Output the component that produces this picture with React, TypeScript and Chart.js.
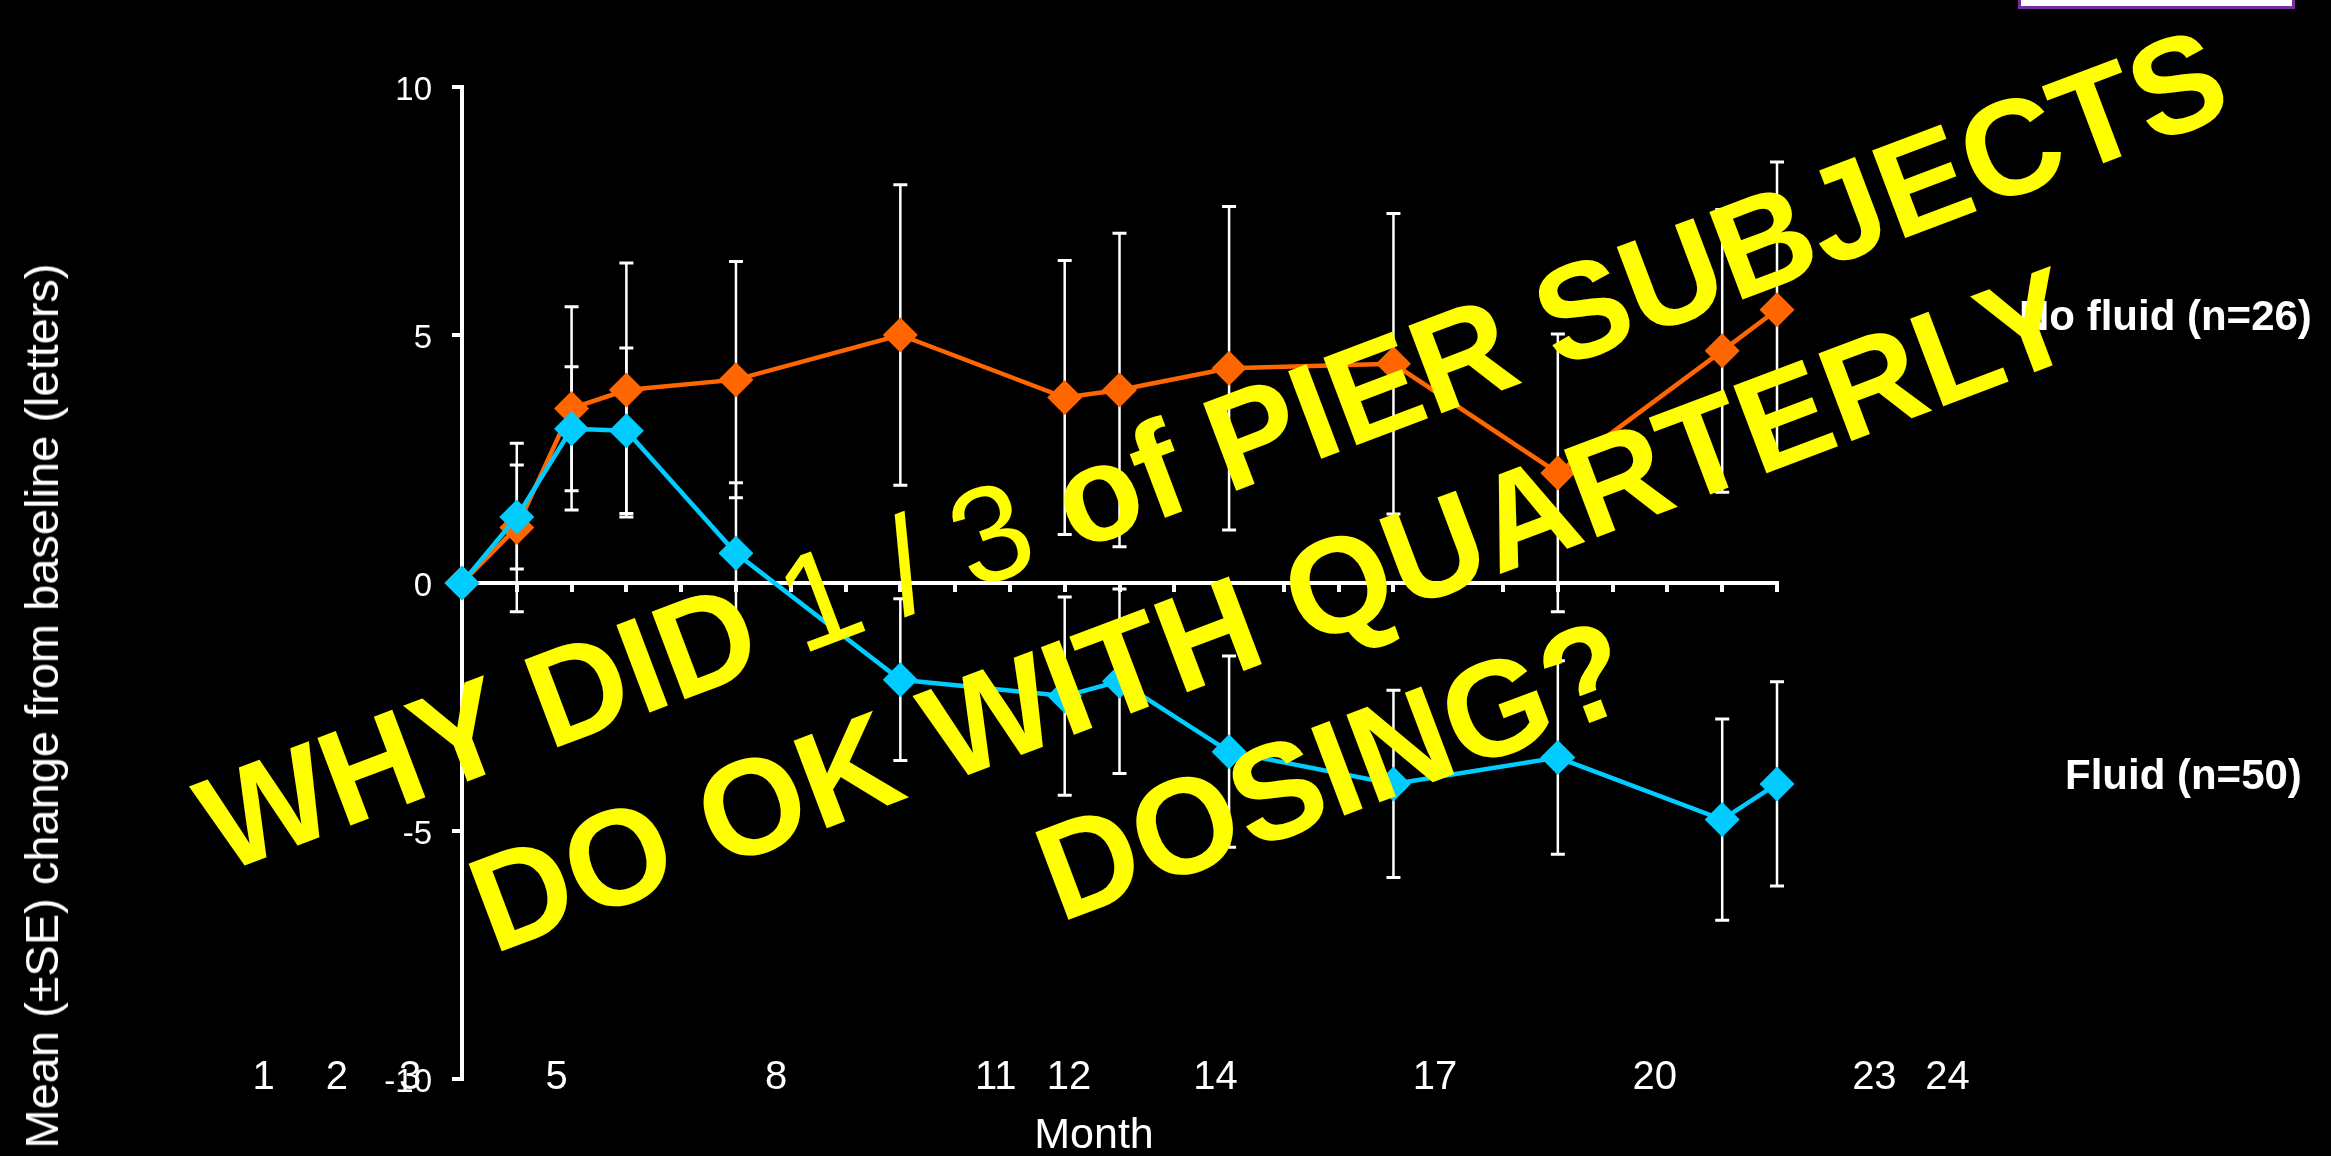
import React, { useEffect, useRef } from 'react';
import { Chart, registerables } from 'chart.js';

Chart.register(...registerables);

// ---- data ----
const months = [0, 1, 2, 3, 5, 8, 11, 12, 14, 17, 20, 23, 24];
const noFluidMean = [0, 1.12, 3.52, 3.89, 4.1, 5.0, 3.74, 3.89, 4.33, 4.42, 2.22, 4.68, 5.51];
const noFluidSE = [0, 1.7, 2.05, 2.56, 2.38, 3.03, 2.76, 3.16, 3.26, 3.03, 2.8, 2.85, 2.98];
const fluidMean = [0, 1.33, 3.11, 3.07, 0.6, -1.95, -2.28, -1.98, -3.4, -4.05, -3.52, -4.77, -4.05];
const fluidSE = [0, 1.05, 1.25, 1.67, 1.42, 1.63, 2.0, 1.86, 1.93, 1.89, 1.95, 2.03, 2.06];
const yTickValues = [-10, -5, 0, 5, 10];
const monthLabels = [1, 2, 3, 5, 8, 11, 12, 14, 17, 20, 23, 24];
const seriesNames = ['No fluid (n=26)', 'Fluid (n=50)'];
const yTitle = 'Mean (\u00B1SE) change from baseline (letters)';
const xTitle = 'Month';

const FONT = '"Liberation Sans", Arial, Helvetica, sans-serif';
const ORANGE = '#FF6600';
const CYAN = '#00CCFF';
const W = 2331;
const H = 1156;

const errorBarPlugin = {
  id: 'errorBars',
  beforeDatasetsDraw(chart: any) {
    const { ctx, scales } = chart;
    const xs = scales.x;
    const ys = scales.y;
    const groups: [number[], number[]][] = [
      [noFluidMean, noFluidSE],
      [fluidMean, fluidSE],
    ];
    ctx.save();
    ctx.strokeStyle = '#FFFFFF';
    ctx.lineCap = 'butt';
    groups.forEach(([mean, se]) => {
      months.forEach((m, i) => {
        if (!se[i]) return;
        const px = xs.getPixelForValue(m);
        const top = ys.getPixelForValue(mean[i] + se[i]);
        const bot = ys.getPixelForValue(mean[i] - se[i]);
        ctx.lineWidth = 2.5;
        ctx.beginPath();
        ctx.moveTo(px, top);
        ctx.lineTo(px, bot);
        ctx.stroke();
        ctx.lineWidth = 3;
        ctx.beginPath();
        ctx.moveTo(px - 7, top);
        ctx.lineTo(px + 7, top);
        ctx.moveTo(px - 7, bot);
        ctx.lineTo(px + 7, bot);
        ctx.stroke();
      });
    });
    ctx.restore();
  },
};

export default function App() {
  const canvasRef = useRef<HTMLCanvasElement | null>(null);

  useEffect(() => {
    const canvas = canvasRef.current;
    if (!canvas) return;
    Chart.defaults.font.family = FONT;
    const chart = new Chart(canvas, {
      type: 'line',
      data: {
        datasets: [
          {
            label: seriesNames[1],
            data: months.map((m, i) => ({ x: m, y: fluidMean[i] })),
            borderColor: CYAN,
            backgroundColor: CYAN,
            borderWidth: 4.5,
            pointStyle: 'rectRot',
            pointRadius: 17.5,
            pointBorderWidth: 0,
            pointBackgroundColor: CYAN,
            clip: false,
          },
          {
            label: seriesNames[0],
            data: months.map((m, i) => ({ x: m, y: noFluidMean[i] })),
            borderColor: ORANGE,
            backgroundColor: ORANGE,
            borderWidth: 4.5,
            pointStyle: 'rectRot',
            pointRadius: 17.5,
            pointBorderWidth: 0,
            pointBackgroundColor: ORANGE,
            clip: false,
          },
        ] as any,
      },
      options: {
        responsive: false,
        animation: false,
        devicePixelRatio: 1,
        layout: { padding: { left: 0, right: 554, top: 87, bottom: 77 } },
        plugins: {
          legend: { display: false },
          tooltip: { enabled: false },
          title: { display: false },
        },
        scales: {
          x: {
            type: 'linear',
            position: { y: 0 } as any,
            min: 0,
            max: 24,
            ticks: { stepSize: 1, display: false, autoSkip: false },
            grid: {
              drawOnChartArea: false,
              drawTicks: true,
              tickLength: 7,
              color: '#FFFFFF',
              lineWidth: 4,
            },
            border: { display: true, color: '#FFFFFF', width: 4 },
          },
          x2: {
            type: 'linear',
            axis: 'x',
            position: { y: -10 } as any,
            min: 3.709,
            max: 21.67,
            afterBuildTicks: (s: any) => {
              s.ticks = monthLabels.map((v) => ({ value: v }));
            },
            afterFit: (s: any) => {
              s.paddingLeft = 0;
              s.paddingRight = 0;
            },
            ticks: {
              color: '#FFFFFF',
              font: { size: 40 },
              padding: -25,
              autoSkip: false,
              maxRotation: 0,
              minRotation: 0,
              callback: (v: any) => String(v),
            },
            grid: { display: false, drawTicks: false },
            border: { display: false },
          } as any,
          y: {
            type: 'linear',
            position: 'left',
            min: -10,
            max: 10,
            afterBuildTicks: (s: any) => {
              s.ticks = yTickValues.map((v) => ({ value: v }));
            },
            afterFit: (s: any) => {
              s.width = 462;
            },
            ticks: {
              color: '#FFFFFF',
              font: { size: 33 },
              padding: 20,
              labelOffset: 4,
              callback: (v: any) => String(v),
            },
            grid: {
              drawOnChartArea: false,
              drawTicks: true,
              tickLength: 10,
              color: '#FFFFFF',
              lineWidth: 4,
            },
            border: { display: true, color: '#FFFFFF', width: 4 },
          },
        } as any,
      },
      plugins: [errorBarPlugin],
    });
    return () => chart.destroy();
  }, []);

  const abs: React.CSSProperties = { position: 'absolute', whiteSpace: 'nowrap', fontFamily: FONT };

  return (
    <div
      style={{
        position: 'fixed',
        left: 0,
        top: 0,
        width: W,
        height: H,
        background: '#000000',
        overflow: 'hidden',
      }}
    >
      <canvas ref={canvasRef} width={W} height={H} style={{ display: 'block', width: W, height: H }} />
      <div
        style={{
          ...abs,
          left: 42,
          top: 706,
          transform: 'translate(-50%, -50%) rotate(-90deg)',
          color: '#FFFFFF',
          fontSize: 47,
          lineHeight: '54px',
        }}
      >
        {yTitle}
      </div>
      <div
        style={{
          ...abs,
          left: 1094,
          top: 1133,
          transform: 'translate(-50%, -50%)',
          color: '#FFFFFF',
          fontSize: 43,
          lineHeight: '50px',
        }}
      >
        {xTitle}
      </div>
      <div
        style={{
          ...abs,
          left: 2019,
          top: 316,
          transform: 'translateY(-50%)',
          color: '#FFFFFF',
          fontSize: 42,
          fontWeight: 'bold',
          lineHeight: '48px',
        }}
      >
        {seriesNames[0]}
      </div>
      <div
        style={{
          ...abs,
          left: 2065,
          top: 775,
          transform: 'translateY(-50%)',
          color: '#FFFFFF',
          fontSize: 42,
          fontWeight: 'bold',
          lineHeight: '48px',
        }}
      >
        {seriesNames[1]}
      </div>
      <div
        style={{
          position: 'absolute',
          left: 2018,
          top: -12,
          width: 271,
          height: 15,
          background: '#FFFFFF',
          border: '3px solid #7030A0',
        }}
      />
      <div
        style={{
          ...abs,
          left: 1273,
          top: 610,
          transform: 'translate(-50%, -50%) rotate(-20.7deg)',
          color: '#FFFF00',
          fontSize: 136,
          fontWeight: 'bold',
          lineHeight: '171px',
          textAlign: 'center',
        }}
      >
        <div style={{ wordSpacing: '-3px' }}>
          WHY DID <span style={{ fontWeight: 'normal' }}>1 / 3</span> of PIER SUBJECTS
        </div>
        <div>DO OK WITH QUARTERLY</div>
        <div>DOSING?</div>
      </div>
    </div>
  );
}
